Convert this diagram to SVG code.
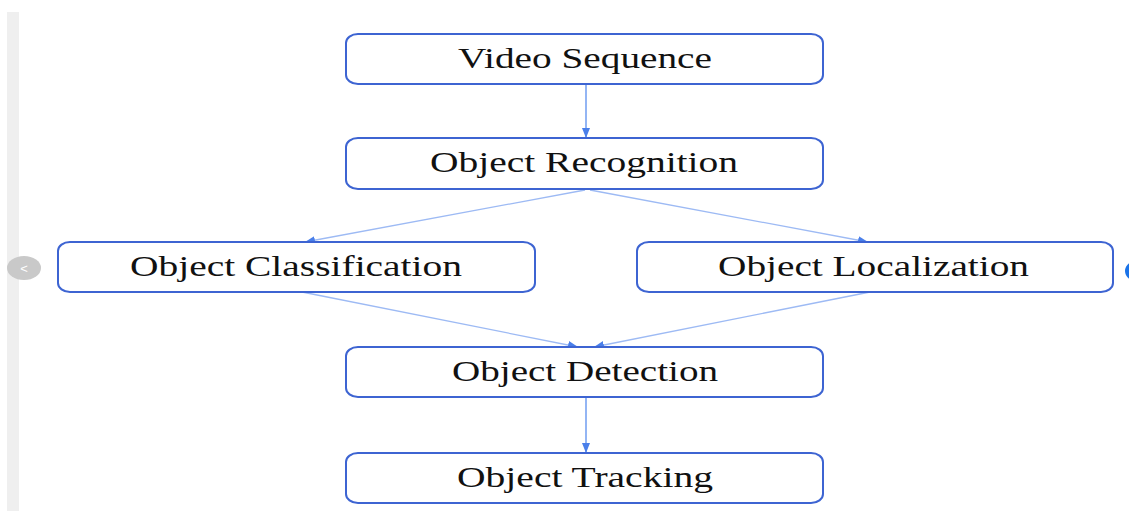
<svg xmlns="http://www.w3.org/2000/svg" width="1129" height="511" viewBox="0 0 1129 511">
  <style>
    .box { fill: #ffffff; stroke: #3d64d2; stroke-width: 2; }
    .label { font-family: "Liberation Serif", "Times New Roman", serif; font-size: 29px; fill: #111111; text-anchor: start; }
    .edge { fill: none; stroke: #9dbaf4; stroke-width: 1.3; }
    .edge-v { fill: none; stroke: #6f9cf0; stroke-width: 1.5; }
  </style>
  <defs>
    <marker id="arrow" markerUnits="userSpaceOnUse" markerWidth="10" markerHeight="8" refX="10" refY="4" orient="auto">
      <path d="M0,0 L10,4 L0,8 z" fill="#4a7fea"/>
    </marker>
  </defs>

  <!-- page chrome -->
  <rect x="0" y="0" width="1129" height="511" fill="#ffffff"/>
  <rect x="7" y="12" width="12" height="499" fill="#efefef"/>
  <ellipse cx="24" cy="268" rx="17" ry="12" fill="#c9c9c9"/>
  <text x="24" y="273" font-family="Liberation Sans, Arial, sans-serif" font-size="13" fill="#ffffff" text-anchor="middle">&lt;</text>
  <ellipse cx="1142" cy="271" rx="17" ry="12" fill="#1a73e8"/>

  <!-- connectors -->
  <g id="connectors">
    <line class="edge-v" x1="586" y1="85" x2="586" y2="138" marker-end="url(#arrow)"/>
    <line class="edge" x1="585" y1="190" x2="305" y2="242" marker-end="url(#arrow)"/>
    <line class="edge" x1="590" y1="190" x2="868" y2="242" marker-end="url(#arrow)"/>
    <line class="edge" x1="302" y1="292" x2="578" y2="347" marker-end="url(#arrow)"/>
    <line class="edge" x1="870" y1="292" x2="594" y2="347" marker-end="url(#arrow)"/>
    <line class="edge-v" x1="586" y1="397" x2="586" y2="453" marker-end="url(#arrow)"/>
  </g>

  <!-- nodes -->
  <g id="video-sequence">
    <rect class="box" x="346" y="34" width="477" height="50" rx="12" ry="9"/>
    <text class="label" x="458" y="68" textLength="254" lengthAdjust="spacingAndGlyphs">Video Sequence</text>
  </g>
  <g id="object-recognition">
    <rect class="box" x="346" y="138" width="477" height="51" rx="12" ry="9"/>
    <text class="label" x="430" y="172" textLength="308" lengthAdjust="spacingAndGlyphs">Object Recognition</text>
  </g>
  <g id="object-classification">
    <rect class="box" x="58" y="242" width="477" height="50" rx="12" ry="9"/>
    <text class="label" x="130" y="276" textLength="332" lengthAdjust="spacingAndGlyphs">Object Classification</text>
  </g>
  <g id="object-localization">
    <rect class="box" x="637" y="242" width="476" height="50" rx="12" ry="9"/>
    <text class="label" x="718" y="276" textLength="311" lengthAdjust="spacingAndGlyphs">Object Localization</text>
  </g>
  <g id="object-detection">
    <rect class="box" x="346" y="347" width="477" height="50" rx="12" ry="9"/>
    <text class="label" x="452" y="381" textLength="266" lengthAdjust="spacingAndGlyphs">Object Detection</text>
  </g>
  <g id="object-tracking">
    <rect class="box" x="346" y="453" width="477" height="50" rx="12" ry="9"/>
    <text class="label" x="457" y="487" textLength="256" lengthAdjust="spacingAndGlyphs">Object Tracking</text>
  </g>
</svg>
